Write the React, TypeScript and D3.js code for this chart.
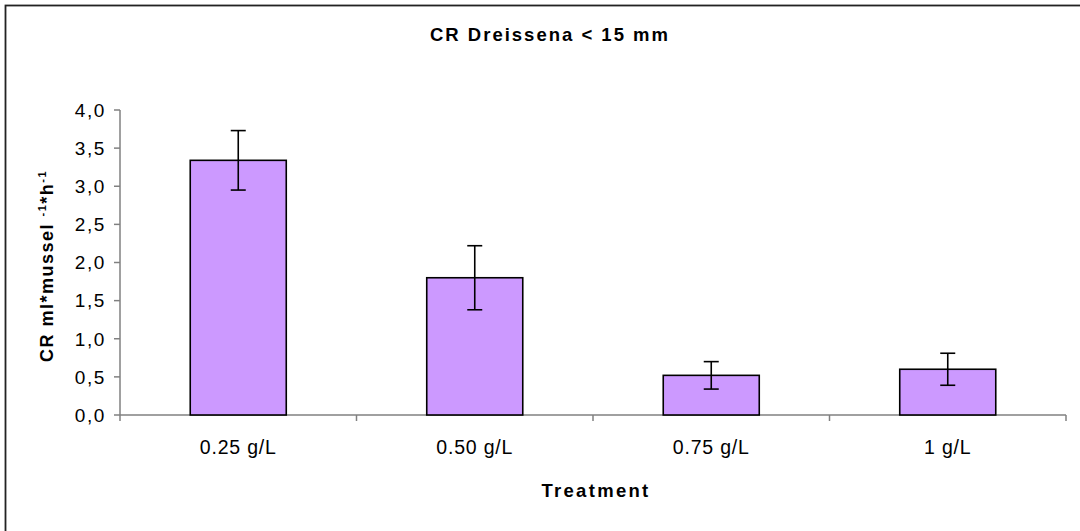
import React from "react";
import * as d3 from "d3";

// Clearance rate per treatment (mean ± SE)
const treatments = ["0.25 g/L", "0.50 g/L", "0.75 g/L", "1 g/L"];
const meanCR = [3.34, 1.8, 0.52, 0.6];
const errCR = [0.39, 0.42, 0.18, 0.21];
const yTicks = [0, 0.5, 1, 1.5, 2, 2.5, 3, 3.5, 4];

const W = 1080;
const H = 531;
const FONT = "'Liberation Sans', Arial, Helvetica, sans-serif";

export default function App() {
  const x = d3
    .scaleBand<string>()
    .domain(treatments)
    .range([120, 1066])
    .paddingInner(0.594)
    .paddingOuter(0.297);
  const y = d3.scaleLinear().domain([0, 4]).range([415, 110]);
  const step = x.step();
  const bounds = d3.range(treatments.length + 1).map((i) => 120 + i * step);
  const fmt = (v: number) => v.toFixed(1).replace(".", ",");
  const capHalf = 7.5;

  return (
    <div style={{ position: "absolute", left: 0, top: 0 }}>
      <svg width={W} height={H} style={{ display: "block", background: "#fff" }}>
        <rect x={5.5} y={5.5} width={W + 20} height={H + 20} fill="#fff" stroke="#222" strokeWidth={1.8} />

        <text
          x={550}
          y={41}
          textAnchor="middle"
          fontFamily={FONT}
          fontWeight="bold"
          fontSize={18.5}
          letterSpacing={2}
        >
          CR Dreissena &lt; 15 mm
        </text>

        {/* y axis */}
        <line x1={120} x2={120} y1={y(4)} y2={y(0)} stroke="#808080" strokeWidth={1.5} />
        {yTicks.map((t) => (
          <g key={t}>
            <line x1={114} x2={120} y1={y(t)} y2={y(t)} stroke="#808080" strokeWidth={1.5} />
            <text
              x={106}
              y={y(t)}
              dy="0.36em"
              textAnchor="end"
              fontFamily={FONT}
              fontSize={19}
              letterSpacing={1.6}
            >
              {fmt(t)}
            </text>
          </g>
        ))}

        {/* x axis */}
        <line x1={120} x2={1066} y1={y(0)} y2={y(0)} stroke="#808080" strokeWidth={1.5} />
        {bounds.map((bx, i) => (
          <line key={i} x1={bx} x2={bx} y1={y(0)} y2={y(0) + 6} stroke="#808080" strokeWidth={1.5} />
        ))}

        {/* bars */}
        {treatments.map((c, i) => (
          <rect
            key={c}
            x={x(c)}
            y={y(meanCR[i])}
            width={x.bandwidth()}
            height={y(0) - y(meanCR[i])}
            fill="#CC99FF"
            stroke="#000"
            strokeWidth={1.6}
          />
        ))}

        {/* error bars */}
        {treatments.map((c, i) => {
          const cx = (x(c) as number) + x.bandwidth() / 2;
          const hi = y(meanCR[i] + errCR[i]);
          const lo = y(meanCR[i] - errCR[i]);
          return (
            <g key={c} stroke="#000" strokeWidth={1.6}>
              <line x1={cx} x2={cx} y1={hi} y2={lo} />
              <line x1={cx - capHalf} x2={cx + capHalf} y1={hi} y2={hi} />
              <line x1={cx - capHalf} x2={cx + capHalf} y1={lo} y2={lo} />
            </g>
          );
        })}

        {/* category labels */}
        {treatments.map((c) => (
          <text
            key={c}
            x={(x(c) as number) + x.bandwidth() / 2}
            y={454}
            textAnchor="middle"
            fontFamily={FONT}
            fontSize={19.5}
            letterSpacing={0.8}
          >
            {c}
          </text>
        ))}

        <text
          x={596}
          y={497}
          textAnchor="middle"
          fontFamily={FONT}
          fontWeight="bold"
          fontSize={18.5}
          letterSpacing={2.3}
        >
          Treatment
        </text>

        <text
          transform="translate(53,266) rotate(-90)"
          textAnchor="middle"
          fontFamily={FONT}
          fontWeight="bold"
          fontSize={18}
          letterSpacing={1.5}
        >
          CR ml*mussel{" "}
          <tspan fontSize={11} dy={-7}>-1</tspan>
          <tspan dy={7}>*h</tspan>
          <tspan fontSize={11} dy={-7}>-1</tspan>
        </text>
      </svg>
    </div>
  );
}
